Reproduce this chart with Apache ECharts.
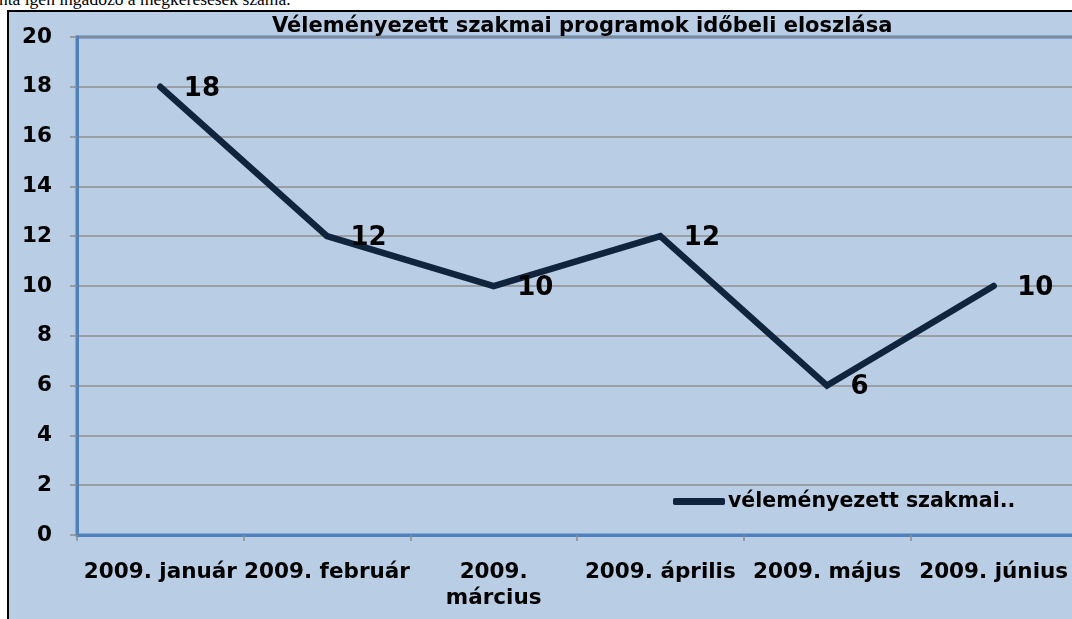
<!DOCTYPE html>
<html>
<head>
<meta charset="utf-8">
<script src="https://cdn.jsdelivr.net/npm/echarts@6/dist/echarts.min.js"></script>
<style>
  html, body { margin: 0; padding: 0; background: #fff; width: 1072px; height: 619px; overflow: hidden; }
  #topText { position: absolute; left: -1px; top: -10px; font-family: "Liberation Serif", serif; font-size: 17.5px; line-height: 18px; color: #000; white-space: nowrap; }
  #frame { position: absolute; left: 7px; top: 10px; width: 1100px; height: 700px; background: #b9cde5; border-left: 2px solid #000; border-top: 2px solid #000; }
  #chart { position: absolute; left: 0; top: 0; width: 1072px; height: 619px; }
</style>
</head>
<body>
<div id="topText">nta igen ingadozó a megkeresések száma.</div>
<div id="frame"></div>
<div id="chart"></div>
<script>
const titleText = 'Véleményezett szakmai programok időbeli eloszlása';
const seriesName = 'véleményezett szakmai..';
const categories = ['2009. január', '2009. február', '2009.\nmárcius', '2009. április', '2009. május', '2009. június'];
const values = [18, 12, 10, 12, 6, 10];
const yMin = 0, yMax = 20, yStep = 2;

const chart = echarts.init(document.getElementById('chart'), null, { renderer: 'canvas' });
const font = 'DejaVu Sans';
chart.setOption({
  backgroundColor: 'transparent',
  animation: false,
  title: {
    text: titleText,
    left: 272, top: 16, padding: 0,
    textStyle: { fontFamily: font, fontWeight: 'bold', fontSize: 21, color: '#000' }
  },
  legend: {
    data: [seriesName],
    left: 673, top: 491, padding: 0,
    icon: 'roundRect', itemWidth: 52, itemHeight: 7,
    textStyle: { fontFamily: font, fontWeight: 'bold', fontSize: 20.5, color: '#000', padding: [0, 0, 0, -2] }
  },
  grid: {
    left: 77, top: 37, width: 1000, height: 498,
    show: true, borderColor: '#4f81bd', borderWidth: 3, backgroundColor: 'transparent',
    containLabel: false, outerBoundsMode: 'none'
  },
  xAxis: {
    type: 'category',
    data: categories,
    boundaryGap: true,
    axisLine: { show: true, lineStyle: { color: '#4f81bd', width: 3 } },
    axisTick: { show: true, length: 6, lineStyle: { color: '#8c8c8c', width: 1.5 } },
    axisLabel: {
      interval: 0, margin: 24, color: '#000',
      fontFamily: font, fontWeight: 'bold', fontSize: 21.5, lineHeight: 26
    },
    splitLine: { show: false }
  },
  yAxis: {
    type: 'value',
    min: yMin, max: yMax, interval: yStep,
    axisLine: { show: true, lineStyle: { color: '#4f81bd', width: 3 } },
    axisTick: { show: true, length: 7, lineStyle: { color: '#8c8c8c', width: 1.5 } },
    axisLabel: { margin: 25, color: '#000', fontFamily: font, fontWeight: 'bold', fontSize: 21.5 },
    splitLine: { show: true, lineStyle: { color: '#8f8f8f', width: 1.5 } }
  },
  series: [{
    name: seriesName,
    type: 'line',
    data: values,
    symbol: 'circle', symbolSize: 1,
    itemStyle: { color: '#10243e' },
    lineStyle: { color: '#10243e', width: 6.5, cap: 'round', join: 'miter' },
    label: {
      show: true, position: 'right', distance: 23, offset: [0, 2],
      color: '#000', fontFamily: font, fontWeight: 'bold', fontSize: 26
    },
    z: 3
  }]
});
</script>
</body>
</html>
